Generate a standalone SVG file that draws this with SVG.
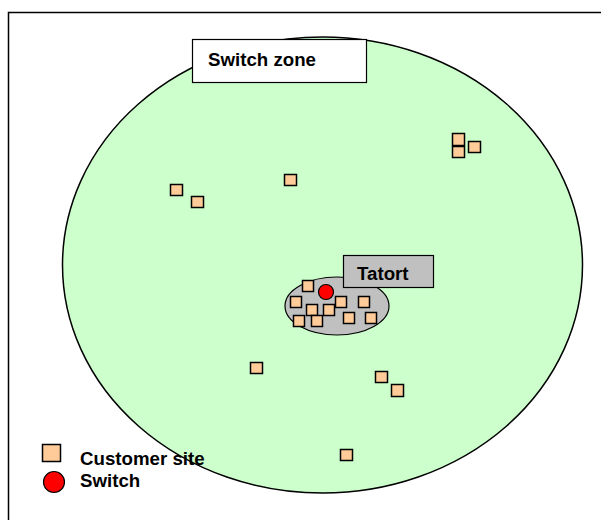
<svg xmlns="http://www.w3.org/2000/svg" width="601" height="520" viewBox="0 0 601 520">
<style>
.site{fill:#ffcc99;stroke:#000;stroke-width:1.5}
.lbl{font-family:"Liberation Sans",Arial,sans-serif;font-weight:bold;font-size:18.7px;fill:#000}
</style>
<rect width="601" height="520" fill="#fff"/>
<path d="M8.5,520 V12.5 H601" fill="none" stroke="#000" stroke-width="1.5"/>
<g id="zone">
<ellipse cx="322.5" cy="265" rx="260" ry="228" fill="#ccffcc" stroke="#000" stroke-width="1.5"/>
</g>
<g id="zone-label">
<rect x="192.5" y="39.5" width="174" height="43" fill="#fff" stroke="#000" stroke-width="1.2"/>
<text class="lbl" x="208" y="65.5">Switch zone</text>
</g>
<g id="tatort-area">
<ellipse cx="337" cy="306" rx="52" ry="29" fill="#c0c0c0" stroke="#000" stroke-width="1.2"/>
</g>
<g id="tatort-label">
<rect x="343.5" y="255.5" width="90" height="32" fill="#c0c0c0" stroke="#000" stroke-width="1.2"/>
<text class="lbl" x="357" y="280">Tatort</text>
</g>
<g id="sites">
<rect class="site" x="170.5" y="184.5" width="12" height="11"/>
<rect class="site" x="191.5" y="196.5" width="12" height="11"/>
<rect class="site" x="284.5" y="174.5" width="12" height="11"/>
<rect class="site" x="452.5" y="133.5" width="12" height="12"/>
<rect class="site" x="452.5" y="146.5" width="12" height="11"/>
<rect class="site" x="468.5" y="141.5" width="12" height="11"/>
<rect class="site" x="250.5" y="362.5" width="12" height="11"/>
<rect class="site" x="375.5" y="371.5" width="12" height="11"/>
<rect class="site" x="391.5" y="384.5" width="12" height="12"/>
<rect class="site" x="340.5" y="449.5" width="12" height="11"/>
<rect class="site" x="302.5" y="280.5" width="11" height="11"/>
<rect class="site" x="290.5" y="296.5" width="11" height="11"/>
<rect class="site" x="306.5" y="304.5" width="11" height="11"/>
<rect class="site" x="323.5" y="304.5" width="11" height="11"/>
<rect class="site" x="335.5" y="296.5" width="11" height="11"/>
<rect class="site" x="358.5" y="296.5" width="11" height="11"/>
<rect class="site" x="293.5" y="315.5" width="11" height="11"/>
<rect class="site" x="311.5" y="315.5" width="11" height="11"/>
<rect class="site" x="343.5" y="312.5" width="11" height="11"/>
<rect class="site" x="365.5" y="312.5" width="11" height="11"/>
</g>
<g id="switch">
<circle cx="326" cy="292" r="7.5" fill="#ff0000" stroke="#000" stroke-width="1.2"/>
</g>
<g id="legend">
<rect class="site" x="42.5" y="444.5" width="18" height="17"/>
<circle cx="54" cy="482" r="10.5" fill="#ff0000" stroke="#000" stroke-width="1.2"/>
<text class="lbl" x="80" y="464.5">Customer site</text>
<text class="lbl" x="80" y="487">Switch</text>
</g>
</svg>
